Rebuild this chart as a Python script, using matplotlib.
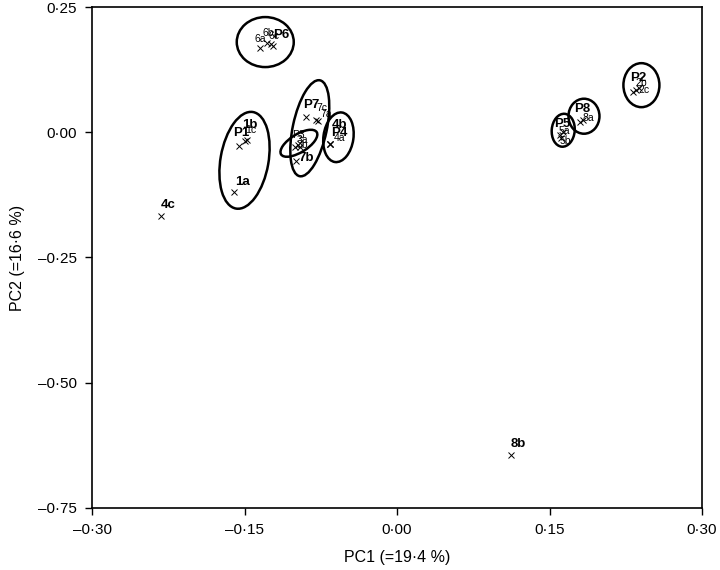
import matplotlib.pyplot as plt
from matplotlib.patches import Ellipse
from matplotlib.transforms import Affine2D, ScaledTranslation
from matplotlib.ticker import FuncFormatter

# sample scores on the first two principal components
labels = ["4c", "8b", "1a",
          "P1", "1c", "1b",
          "P7", "7c", "7a", "7b",
          "P3", "3a", "3b",
          "P4", "4b", "4a",
          "P6", "6a", "6b", "6c",
          "P2", "2b", "2c",
          "P8", "8a",
          "P5", "5a", "5b"]
pc1 = [-0.232, 0.112, -0.160,
       -0.155, -0.150, -0.148,
       -0.090, -0.080, -0.078, -0.099,
       -0.100, -0.097, -0.095,
       -0.066, -0.066, -0.066,
       -0.122, -0.135, -0.128, -0.124,
       0.232, 0.2355, 0.2385,
       0.180, 0.183,
       0.1606, 0.1635, 0.1615]
pc2 = [-0.168, -0.644, -0.120,
       -0.028, -0.018, -0.016,
       0.030, 0.024, 0.022, -0.058,
       -0.030, -0.026, -0.030,
       -0.024, -0.024, -0.024,
       0.172, 0.168, 0.178, 0.176,
       0.080, 0.084, 0.088,
       0.020, 0.024,
       -0.006, 0.000, -0.012]
big_labels = {"4c", "8b", "1a", "P7", "P1", "1b", "P6", "P2", "P8", "P4", "4b", "P5", "7b"}

# group ellipses: centre (pc1, pc2)
ell_x = [-0.150, -0.0858, -0.0965, -0.0576, -0.1296, 0.2404, 0.1839, 0.1635]
ell_y = [-0.056, 0.008, -0.022, -0.010, 0.180, 0.094, 0.032, 0.004]

# label offsets in pixels (dx, dy)
label_off = {
    "4c": (7, 11), "8b": (7, 11), "1a": (8, 10),
    "P1": (2, 13), "1c": (6, 11), "1b": (3, 15),
    "P7": (6, 12), "7c": (6, 12), "7a": (8, 7), "7b": (10, 3),
    "P3": (3, 12), "3a": (4, 5), "3b": (2, 2),
    "P4": (9, 11), "4b": (10, 19), "4a": (10, 6),
    "P6": (8, 11), "6a": (0, 9), "6b": (1, 10), "6c": (3, 8),
    "P2": (5, 14), "2b": (5, 7), "2c": (5, -2),
    "P8": (2, 13), "8a": (5, 2),
    "P5": (2, 11), "5a": (1, 1), "5b": (4, -3),
}
ell_size = [(48, 98, -10), (34, 98, -12), (42, 18, 32), (30, 50, -8),
            (57, 50, 0), (36, 44, 0), (31, 35, 0), (23, 33, -5)]


def fmt(v, pos):
    s = f"{abs(v):.2f}".replace(".", "\u00b7")
    return ("\u2013" + s) if v < -1e-9 else s


def main() -> None:
    plt.rcParams["font.family"] = ["Liberation Sans", "DejaVu Sans"]
    fig = plt.figure(figsize=(7.2, 5.7), dpi=100)
    ax = fig.add_axes([0.1278, 0.1088, 0.8472, 0.8789])

    ax.plot(pc1, pc2, "x", color="black", markersize=4, markeredgewidth=0.7)

    for lab, x, y in zip(labels, pc1, pc2):
        dx, dy = label_off[lab]
        big = lab in big_labels
        ax.annotate(lab, (x, y), xytext=(dx, dy), textcoords="offset pixels",
                    ha="center", va="center",
                    fontsize=9.5 if big else 7.5,
                    fontweight="bold" if big else "normal")

    for (cx, cy), (w, h, ang) in zip(zip(ell_x, ell_y), ell_size):
        tr = (Affine2D().scale(1 / fig.dpi) + fig.dpi_scale_trans
              + ScaledTranslation(cx, cy, ax.transData))
        ax.add_patch(Ellipse((0, 0), w, h, angle=ang, fill=False,
                             edgecolor="black", linewidth=1.8, transform=tr))

    ax.set_xlim(-0.30, 0.30)
    ax.set_ylim(-0.75, 0.25)
    ax.set_xticks([-0.30, -0.15, 0.0, 0.15, 0.30])
    ax.set_yticks([-0.75, -0.50, -0.25, 0.0, 0.25])
    ax.xaxis.set_major_formatter(FuncFormatter(fmt))
    ax.yaxis.set_major_formatter(FuncFormatter(fmt))
    ax.tick_params(direction="out", length=5, width=1, labelsize=11, pad=6)
    for sp in ax.spines.values():
        sp.set_linewidth(1.2)
    ax.set_xlabel("PC1 (=19\u00b74 %)", fontsize=11.5, labelpad=9)
    ax.set_ylabel("PC2 (=16\u00b76 %)", fontsize=11.5, labelpad=9)

    fig.savefig("out.png", dpi=100)


if __name__ == "__main__":
    main()
